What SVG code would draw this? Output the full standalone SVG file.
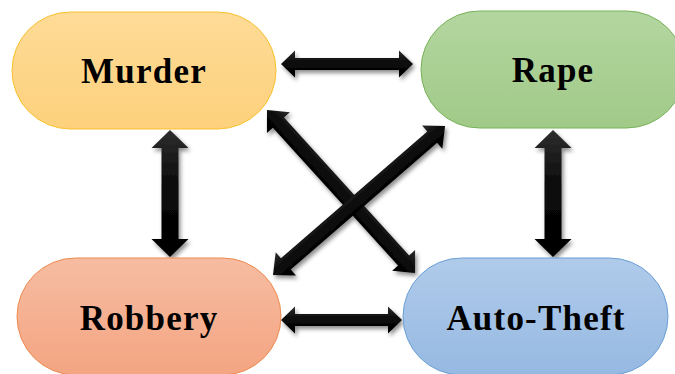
<svg xmlns="http://www.w3.org/2000/svg" width="675" height="374" viewBox="0 0 675 374">
  <defs>
    <linearGradient id="gMurder" x1="0" y1="0" x2="0" y2="1">
      <stop offset="0" stop-color="#fedb97"/>
      <stop offset="1" stop-color="#fdd17c"/>
    </linearGradient>
    <linearGradient id="gRape" x1="0" y1="0" x2="0" y2="1">
      <stop offset="0" stop-color="#b3d6a0"/>
      <stop offset="1" stop-color="#a1ca88"/>
    </linearGradient>
    <linearGradient id="gRobbery" x1="0" y1="0" x2="0" y2="1">
      <stop offset="0" stop-color="#f6bca1"/>
      <stop offset="1" stop-color="#f4a582"/>
    </linearGradient>
    <linearGradient id="gAuto" x1="0" y1="0" x2="0" y2="1">
      <stop offset="0" stop-color="#b0cbea"/>
      <stop offset="1" stop-color="#96b9e2"/>
    </linearGradient>
    <linearGradient id="gArrow" x1="0" y1="0" x2="0" y2="1">
      <stop offset="0" stop-color="#2e2e2e"/>
      <stop offset="0.45" stop-color="#0a0a0a"/>
      <stop offset="1" stop-color="#000"/>
    </linearGradient>
    <filter id="shadow" x="-10%" y="-10%" width="130%" height="130%">
      <feDropShadow dx="2" dy="3" stdDeviation="2" flood-color="#000" flood-opacity="0.45"/>
    </filter>
  </defs>
  <style>
    .label { font-family: "Liberation Serif", "Times New Roman", serif; font-weight: bold; font-size: 35px; letter-spacing: 1.2px; fill: #000; text-anchor: middle; }
    .arrow { fill: url(#gArrow); }
  </style>
  <rect width="675" height="374" fill="#ffffff"/>

  <g id="connectors" filter="url(#shadow)">
    <polygon class="arrow" points="281,64 295,50.5 295,58 399,58 399,50.5 413,64 399,77.5 399,70 295,70 295,77.5"/>
    <polygon class="arrow" points="281,320 295,306.5 295,314 388,314 388,306.5 402,320 388,333.5 388,326 295,326 295,333.5"/>
    <polygon class="arrow" points="170,130 188.5,148 178.5,148 178.5,239 188.5,239 170,257 151.5,239 161.5,239 161.5,148 151.5,148"/>
    <polygon class="arrow" points="553,130 571.5,148 561.5,148 561.5,239 571.5,239 553,257 534.5,239 544.5,239 544.5,148 534.5,148"/>
    <g transform="translate(267,110) rotate(47.76)">
      <polygon class="arrow" points="0,0 17,-15.5 17,-7.5 203.2,-7.5 203.2,-15.5 220.2,0 203.2,15.5 203.2,7.5 17,7.5 17,15.5"/>
    </g>
    <g transform="translate(273,275) rotate(-40.9)">
      <polygon class="arrow" points="0,0 17,-15.5 17,-7.5 210.6,-7.5 210.6,-15.5 227.6,0 210.6,15.5 210.6,7.5 17,7.5 17,15.5"/>
    </g>
  </g>

  <g id="murder">
    <rect x="12" y="12" width="264" height="117" rx="58.5" ry="58.5" fill="url(#gMurder)" stroke="#f9c12e" stroke-width="1"/>
    <text class="label" x="144" y="83">Murder</text>
  </g>
  <g id="rape">
    <rect x="421" y="11" width="264" height="117" rx="58.5" ry="58.5" fill="url(#gRape)" stroke="#78b258" stroke-width="1"/>
    <text class="label" x="553" y="82">Rape</text>
  </g>
  <g id="robbery">
    <rect x="17" y="258" width="264" height="117" rx="58.5" ry="58.5" fill="url(#gRobbery)" stroke="#ed8b4f" stroke-width="1"/>
    <text class="label" x="149" y="330">Robbery</text>
  </g>
  <g id="auto-theft">
    <rect x="403" y="258" width="265" height="117" rx="58.5" ry="58.5" fill="url(#gAuto)" stroke="#6b9fd5" stroke-width="1"/>
    <text class="label" x="536" y="330">Auto-Theft</text>
  </g>
</svg>
